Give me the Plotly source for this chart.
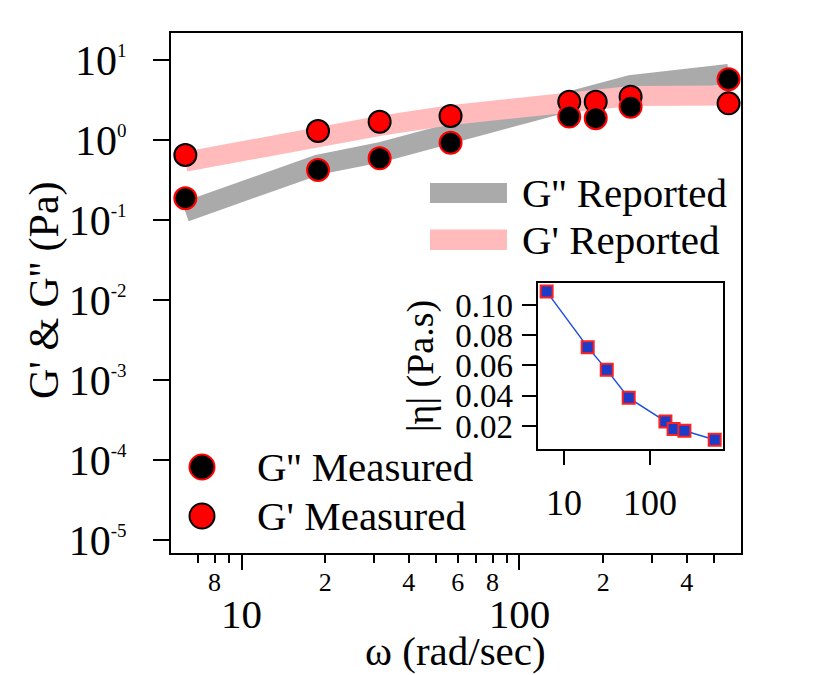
import plotly.graph_objects as go

# ---------------- data ----------------
omega = [6.28, 18.85, 31.4, 56.5, 151, 188, 251, 565]
g1_measured = [0.649, 1.296, 1.69, 2.0, 3.01, 3.01, 3.48, 2.87]      # G'
g2_measured = [0.187, 0.422, 0.59, 0.925, 1.96, 1.87, 2.61, 5.74]    # G''
g1_reported = [0.535, 1.17, 1.50, 2.05, 3.0, 3.2, 3.55, 3.6]        # G'
g2_reported = [0.127, 0.49, 0.70, 1.22, 3.03, 3.77, 4.87, 6.68]     # G''
eta = [0.1088, 0.0721, 0.0571, 0.0386, 0.0230, 0.0180, 0.0168, 0.0109]

x_minor_vals = [7, 8, 9, 20, 30, 40, 50, 60, 70, 80, 90, 200, 300, 400, 500]
x_minor_text = ["", "8", "", "2", "", "4", "", "6", "", "8", "", "2", "", "4", ""]
x_major_vals = [10, 100]
x_major_text = ["10", "100"]
y_tick_vals = [1e-5, 1e-4, 1e-3, 1e-2, 1e-1, 1, 10]
y_exponents = ["-5", "-4", "-3", "-2", "-1", "0", "1"]
inset_y_vals = [0.02, 0.04, 0.06, 0.08, 0.10]
inset_y_text = ["0.02", "0.04", "0.06", "0.08", "0.10"]

y_tick_text = ["10<sup><span style='font-size:19px'>%s</span></sup>" % e for e in y_exponents]

FONT = "Liberation Serif, Times New Roman, serif"
W, H = 825, 675
ML, MR, MT, MB = 171, 84, 33, 122
PW, PH = W - ML - MR, H - MT - MB


def px(x):
    return (x - ML) / PW


def py(y):
    return (H - MB - y) / PH


fig = go.Figure()

# reported bands
fig.add_trace(go.Scatter(x=omega, y=g2_reported, mode="lines",
                         line=dict(color="#aaaaaa", width=20), showlegend=False,
                         name="G'' Reported"))
fig.add_trace(go.Scatter(x=omega, y=g1_reported, mode="lines",
                         line=dict(color="#ffbbbb", width=20), showlegend=False,
                         name="G' Reported"))
# measured
fig.add_trace(go.Scatter(x=omega, y=g1_measured, mode="markers",
                         marker=dict(symbol="circle", size=22, color="#ff0000",
                                     line=dict(color="black", width=2)),
                         showlegend=False, name="G' Measured"))
fig.add_trace(go.Scatter(x=omega, y=g2_measured, mode="markers",
                         marker=dict(symbol="circle", size=22, color="black",
                                     line=dict(color="#ff0000", width=2)),
                         showlegend=False, name="G'' Measured"))
# invisible carrier so the decade-label axis is drawn
fig.add_trace(go.Scatter(x=omega, y=g1_measured, xaxis="x3", yaxis="y", mode="markers",
                         marker=dict(opacity=0), hoverinfo="skip", showlegend=False))

# inset
fig.add_trace(go.Scatter(x=omega, y=eta, mode="lines+markers", xaxis="x2", yaxis="y2",
                         line=dict(color="#1f4fe0", width=1.5),
                         marker=dict(symbol="square", size=12, color="#1a3cc8",
                                     line=dict(color="#ff2020", width=2)),
                         showlegend=False, name="|η|"))

fig.update_layout(
    width=W, height=H,
    margin=dict(l=ML, r=MR, t=MT, b=MB),
    paper_bgcolor="white", plot_bgcolor="white",
    font=dict(family=FONT, color="black"),
    showlegend=False,
    xaxis=dict(type="log", range=[0.7464, 2.7968],
               tickmode="array", tickvals=x_minor_vals, ticktext=x_minor_text,
               ticks="outside", ticklen=8, tickwidth=2, tickcolor="black",
               tickfont=dict(size=26, family=FONT), ticklabelstandoff=-3,
               showline=True, linewidth=2, linecolor="black", mirror=True,
               showgrid=False, zeroline=False),
    xaxis3=dict(type="log", range=[0.7464, 2.7968], overlaying="x", anchor="y",
                side="bottom",
                tickmode="array", tickvals=x_major_vals, ticktext=x_major_text,
                ticks="outside", ticklen=16, tickwidth=2, tickcolor="black",
                tickfont=dict(size=41, family=FONT), ticklabelstandoff=9,
                showline=False, showgrid=False, zeroline=False),
    yaxis=dict(type="log", range=[-5.1625, 1.3375],
               tickmode="array", tickvals=y_tick_vals, ticktext=y_tick_text,
               ticks="outside", ticklen=16, tickwidth=2, tickcolor="black",
               tickfont=dict(size=42, family=FONT), ticklabelstandoff=18,
               showline=True, linewidth=2, linecolor="black", mirror=True,
               showgrid=False, zeroline=False),
    xaxis2=dict(type="log", range=[0.694, 2.852], domain=[px(537.7), px(723.3)],
                anchor="y2", tickmode="array", tickvals=x_major_vals,
                ticktext=x_major_text, ticks="outside", ticklen=14, tickwidth=2,
                tickcolor="black", tickfont=dict(size=36, family=FONT),
                ticklabelstandoff=7,
                showline=True, linewidth=2, linecolor="black", mirror=True,
                showgrid=False, zeroline=False),
    yaxis2=dict(range=[0.0048, 0.1143], domain=[py(449), py(283.3)], anchor="x2",
                tickmode="array", tickvals=inset_y_vals, ticktext=inset_y_text,
                ticks="outside", ticklen=14, tickwidth=2, tickcolor="black",
                tickfont=dict(size=33, family=FONT), ticklabelstandoff=2,
                showline=True, linewidth=2, linecolor="black", mirror=True,
                showgrid=False, zeroline=False),
)

shapes = []
annotations = []

# reported legend
shapes.append(dict(type="rect", xref="paper", yref="paper", x0=px(430), x1=px(507),
                   y0=py(203), y1=py(183), fillcolor="#aaaaaa", line=dict(width=0)))
shapes.append(dict(type="rect", xref="paper", yref="paper", x0=px(430), x1=px(507),
                   y0=py(250), y1=py(229.5), fillcolor="#ffbbbb", line=dict(width=0)))
annotations.append(dict(xref="paper", yref="paper", x=px(520), y=py(193),
                        xanchor="left", yanchor="middle", showarrow=False,
                        text="G'' Reported", font=dict(size=41, family=FONT)))
annotations.append(dict(xref="paper", yref="paper", x=px(520), y=py(240),
                        xanchor="left", yanchor="middle", showarrow=False,
                        text="G' Reported", font=dict(size=41, family=FONT)))

# measured legend
r = 12.5
shapes.append(dict(type="circle", xref="paper", yref="paper",
                   x0=px(202 - r), x1=px(202 + r), y0=py(467 + r), y1=py(467 - r),
                   fillcolor="black", line=dict(color="#ff0000", width=2)))
shapes.append(dict(type="circle", xref="paper", yref="paper",
                   x0=px(202 - r), x1=px(202 + r), y0=py(516 + r), y1=py(516 - r),
                   fillcolor="#ff0000", line=dict(color="black", width=2)))
annotations.append(dict(xref="paper", yref="paper", x=px(255), y=py(467),
                        xanchor="left", yanchor="middle", showarrow=False,
                        text="G'' Measured", font=dict(size=41, family=FONT)))
annotations.append(dict(xref="paper", yref="paper", x=px(255), y=py(516),
                        xanchor="left", yanchor="middle", showarrow=False,
                        text="G' Measured", font=dict(size=41, family=FONT)))

# axis titles
annotations.append(dict(xref="paper", yref="paper", x=px(44), y=py(290),
                        xanchor="center", yanchor="middle", showarrow=False,
                        textangle=-90, text="G' & G'' (Pa)", font=dict(size=42, family=FONT)))
annotations.append(dict(xref="paper", yref="paper", x=px(455), y=py(651),
                        xanchor="center", yanchor="middle", showarrow=False,
                        text="ω (rad/sec)", font=dict(size=41, family=FONT)))
annotations.append(dict(xref="paper", yref="paper", x=px(420), y=py(366),
                        xanchor="center", yanchor="middle", showarrow=False,
                        textangle=-90, text="|η| (Pa.s)", font=dict(size=38, family=FONT)))

fig.update_layout(shapes=shapes, annotations=annotations)

fig.write_html("out.html")
